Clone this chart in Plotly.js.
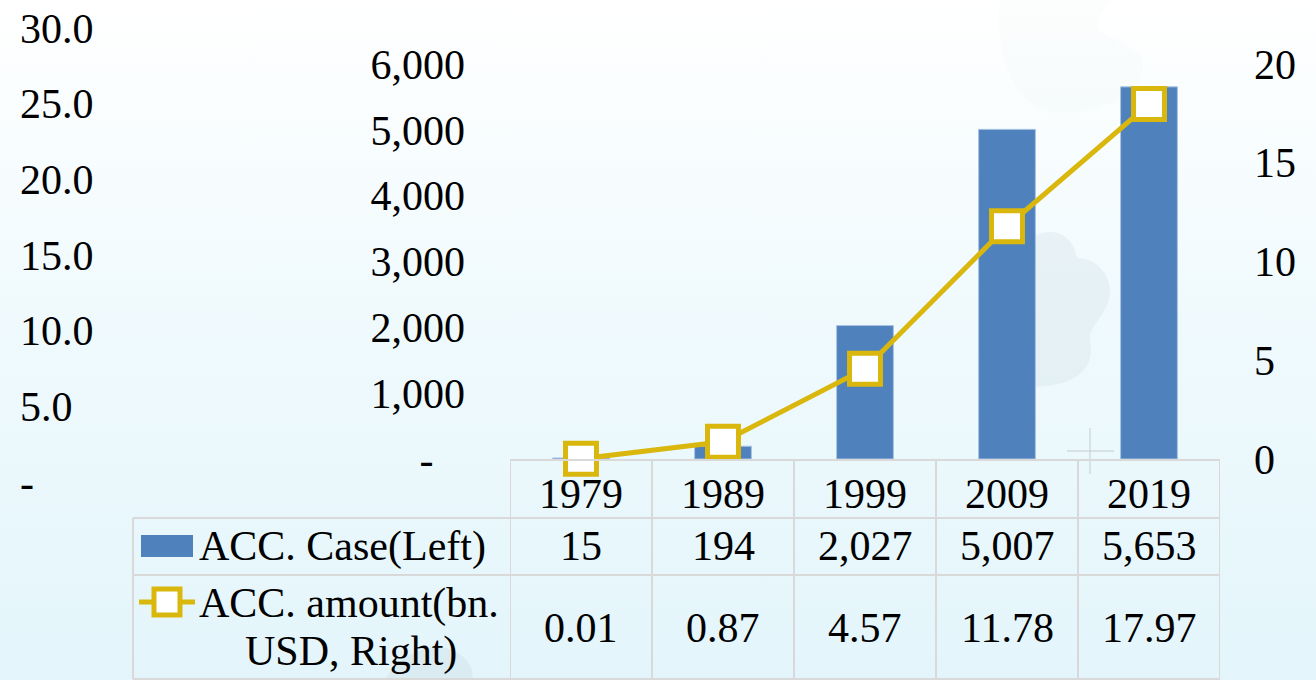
<!DOCTYPE html>
<html>
<head>
<meta charset="utf-8">
<script src="https://cdn.plot.ly/plotly-3.0.1.min.js"></script>
<style>
  html, body { margin:0; padding:0; width:1316px; height:680px; overflow:hidden;
    background: linear-gradient(to bottom, #ffffff 0%, #f0fafd 45%, #e3f5fb 100%); }
  #chart { width:1316px; height:680px; }
</style>
</head>
<body>
<div id="chart"></div>
<script>
// ---- data ----
const categories = ['1979', '1989', '1999', '2009', '2019'];
const caseValues = [15, 194, 2027, 5007, 5653];
const amountValues = [0.01, 0.87, 4.57, 11.78, 17.97];
const caseName = 'ACC. Case(Left)';
const amountNameLines = ['ACC. amount(bn.', 'USD, Right)'];
const leftTickVals = [0, 1000, 2000, 3000, 4000, 5000, 6000];
const leftTickText = ['-\u00a0\u00a0\u00a0', '1,000', '2,000', '3,000', '4,000', '5,000', '6,000'];
const rightTickVals = [0, 5, 10, 15, 20];
const outerTickVals = [0, 5, 10, 15, 20, 25, 30];
const outerTickText = ['-', '5.0', '10.0', '15.0', '20.0', '25.0', '30.0'];

// ---- layout helpers ----
const W = 1316, H = 680;
const px = x => x / W;
const py = y => 1 - y / H;
const FONT = { family: 'Liberation Serif, Times New Roman, serif', size: 42, color: '#000000' };
const BLUE = '#4f81bd';
const GOLD = '#d9b70d';
const GRIDC = '#d9d9d9';

// build an SVG path (pixel coords) in paper coordinates
function P(parts) {
  return parts.map(p => {
    const cmd = p[0];
    const nums = [];
    for (let k = 1; k < p.length; k += 2) nums.push(px(p[k]).toFixed(5) + ',' + py(p[k + 1]).toFixed(5));
    return cmd + ' ' + nums.join(' ');
  }).join(' ');
}

const traces = [
  { type: 'bar', x: categories, y: caseValues, name: caseName, xaxis: 'x', yaxis: 'y',
    marker: { color: BLUE, line: { color: '#a9c3e3', width: 1 } }, width: 0.4, hoverinfo: 'skip' },
  { type: 'scatter', mode: 'lines+markers', x: categories, y: amountValues,
    name: amountNameLines.join(' '), xaxis: 'x', yaxis: 'y2',
    line: { color: GOLD, width: 5 },
    marker: { symbol: 'square', size: 31, color: '#ffffff', line: { color: GOLD, width: 5 } },
    hoverinfo: 'skip', cliponaxis: false },
  { type: 'scatter', x: [], y: [], xaxis: 'x2', yaxis: 'y3', showlegend: false, hoverinfo: 'skip' }
];

const shapes = [];
// faint background watermark blobs
shapes.push({ type: 'path', xref: 'paper', yref: 'paper', layer: 'below', line: { width: 0 },
  fillcolor: 'rgba(160,180,190,0.12)',
  path: P([['M', 1030, 240], ['C', 1040, 228, 1072, 226, 1077, 258], ['C', 1100, 258, 1116, 282, 1108, 303],
           ['C', 1100, 322, 1088, 328, 1090, 343], ['C', 1096, 372, 1070, 387, 1030, 387], ['Z']]) });
shapes.push({ type: 'path', xref: 'paper', yref: 'paper', layer: 'below', line: { width: 0 },
  fillcolor: 'rgba(160,180,190,0.14)',
  path: P([['M', 385, 680], ['C', 395, 660, 420, 645, 445, 648], ['C', 465, 652, 475, 668, 472, 680], ['Z']]) });
shapes.push({ type: 'path', xref: 'paper', yref: 'paper', layer: 'below', line: { width: 0 },
  fillcolor: 'rgba(170,190,200,0.03)',
  path: P([['M', 1000, 0], ['C', 995, 40, 1005, 100, 1050, 112], ['C', 1090, 118, 1150, 95, 1142, 60],
           ['C', 1135, 38, 1090, 40, 1098, 20], ['C', 1102, 8, 1110, 4, 1112, 0], ['Z']]) });
// faint cross
shapes.push({ type: 'line', xref: 'paper', yref: 'paper', layer: 'below', x0: px(1090), x1: px(1090), y0: py(428), y1: py(474),
  line: { color: 'rgba(200,205,208,0.7)', width: 1.5 } });
shapes.push({ type: 'line', xref: 'paper', yref: 'paper', layer: 'below', x0: px(1067), x1: px(1114), y0: py(451), y1: py(451),
  line: { color: 'rgba(200,205,208,0.7)', width: 1.5 } });

// table grid
const lineStyle = { color: GRIDC, width: 2 };
for (let i = 0; i <= categories.length; i++) {
  shapes.push({ type: 'line', xref: 'x', yref: 'paper', x0: i - 0.5, x1: i - 0.5,
    y0: py(460), y1: py(679), line: lineStyle, layer: 'below' });
}
shapes.push({ type: 'line', xref: 'paper', yref: 'paper', x0: px(510), x1: px(1220), y0: py(460), y1: py(460), line: lineStyle });
[518, 575, 679].forEach(y => shapes.push({ type: 'line', xref: 'paper', yref: 'paper',
  x0: px(133), x1: px(1220), y0: py(y), y1: py(y), line: lineStyle }));
shapes.push({ type: 'line', xref: 'paper', yref: 'paper', x0: px(133), x1: px(133), y0: py(518), y1: py(679), line: lineStyle });
// legend keys
shapes.push({ type: 'rect', xref: 'paper', yref: 'paper', x0: px(141), x1: px(193), y0: py(557), y1: py(535),
  fillcolor: BLUE, line: { width: 0 } });
shapes.push({ type: 'line', xref: 'paper', yref: 'paper', x0: px(139), x1: px(195), y0: py(602), y1: py(602),
  line: { color: GOLD, width: 5 } });
shapes.push({ type: 'rect', xref: 'paper', yref: 'paper', x0: px(154), x1: px(180), y0: py(615), y1: py(589),
  fillcolor: '#ffffff', line: { color: GOLD, width: 5 } });

const annotations = [];
caseValues.forEach((v, i) => annotations.push({ xref: 'x', yref: 'paper', x: i, y: py(546),
  text: v.toLocaleString('en-US'), showarrow: false, font: FONT, yanchor: 'middle' }));
amountValues.forEach((v, i) => annotations.push({ xref: 'x', yref: 'paper', x: i, y: py(628),
  text: v.toFixed(2), showarrow: false, font: FONT, yanchor: 'middle' }));
annotations.push({ xref: 'paper', yref: 'paper', x: px(197), y: py(546), xanchor: 'left', yanchor: 'middle',
  text: caseName, showarrow: false, font: FONT });
annotations.push({ xref: 'paper', yref: 'paper', x: px(197), y: py(603), xanchor: 'left', yanchor: 'middle',
  text: amountNameLines[0], showarrow: false, font: FONT });
annotations.push({ xref: 'paper', yref: 'paper', x: px(351), y: py(651), xanchor: 'center', yanchor: 'middle',
  text: amountNameLines[1], showarrow: false, font: FONT });

const layout = {
  width: W, height: H,
  margin: { l: 0, r: 0, t: 0, b: 0, pad: 0 },
  paper_bgcolor: 'rgba(0,0,0,0)', plot_bgcolor: 'rgba(0,0,0,0)',
  showlegend: false,
  font: FONT,
  xaxis: { domain: [px(510), px(1220)], anchor: 'y', type: 'category', range: [-0.5, 4.5],
    showgrid: false, zeroline: false, showline: false, ticks: '', tickfont: FONT,
    ticklabelstandoff: 6, fixedrange: true },
  yaxis: { domain: [py(459), py(64)], anchor: 'x', side: 'left', range: [0, 6000],
    tickvals: leftTickVals, ticktext: leftTickText, tickfont: FONT,
    showgrid: false, zeroline: false, showline: false, ticks: '', ticklabelstandoff: 44, fixedrange: true },
  yaxis2: { overlaying: 'y', anchor: 'x', side: 'right', range: [0, 20], tickvals: rightTickVals,
    tickfont: FONT, showgrid: false, zeroline: false, showline: false, ticks: '', ticklabelstandoff: 33, fixedrange: true },
  xaxis2: { domain: [0, px(19)], anchor: 'y3', visible: false, fixedrange: true },
  yaxis3: { domain: [py(482), py(28)], anchor: 'x2', side: 'right', range: [0, 30],
    tickvals: outerTickVals, ticktext: outerTickText, tickfont: FONT,
    showgrid: false, zeroline: false, showline: false, ticks: '', ticklabelstandoff: 0, fixedrange: true },
  shapes: shapes,
  annotations: annotations,
  bargap: 0.6
};

Plotly.newPlot('chart', traces, layout, { displayModeBar: false, staticPlot: true });
</script>
</body>
</html>
